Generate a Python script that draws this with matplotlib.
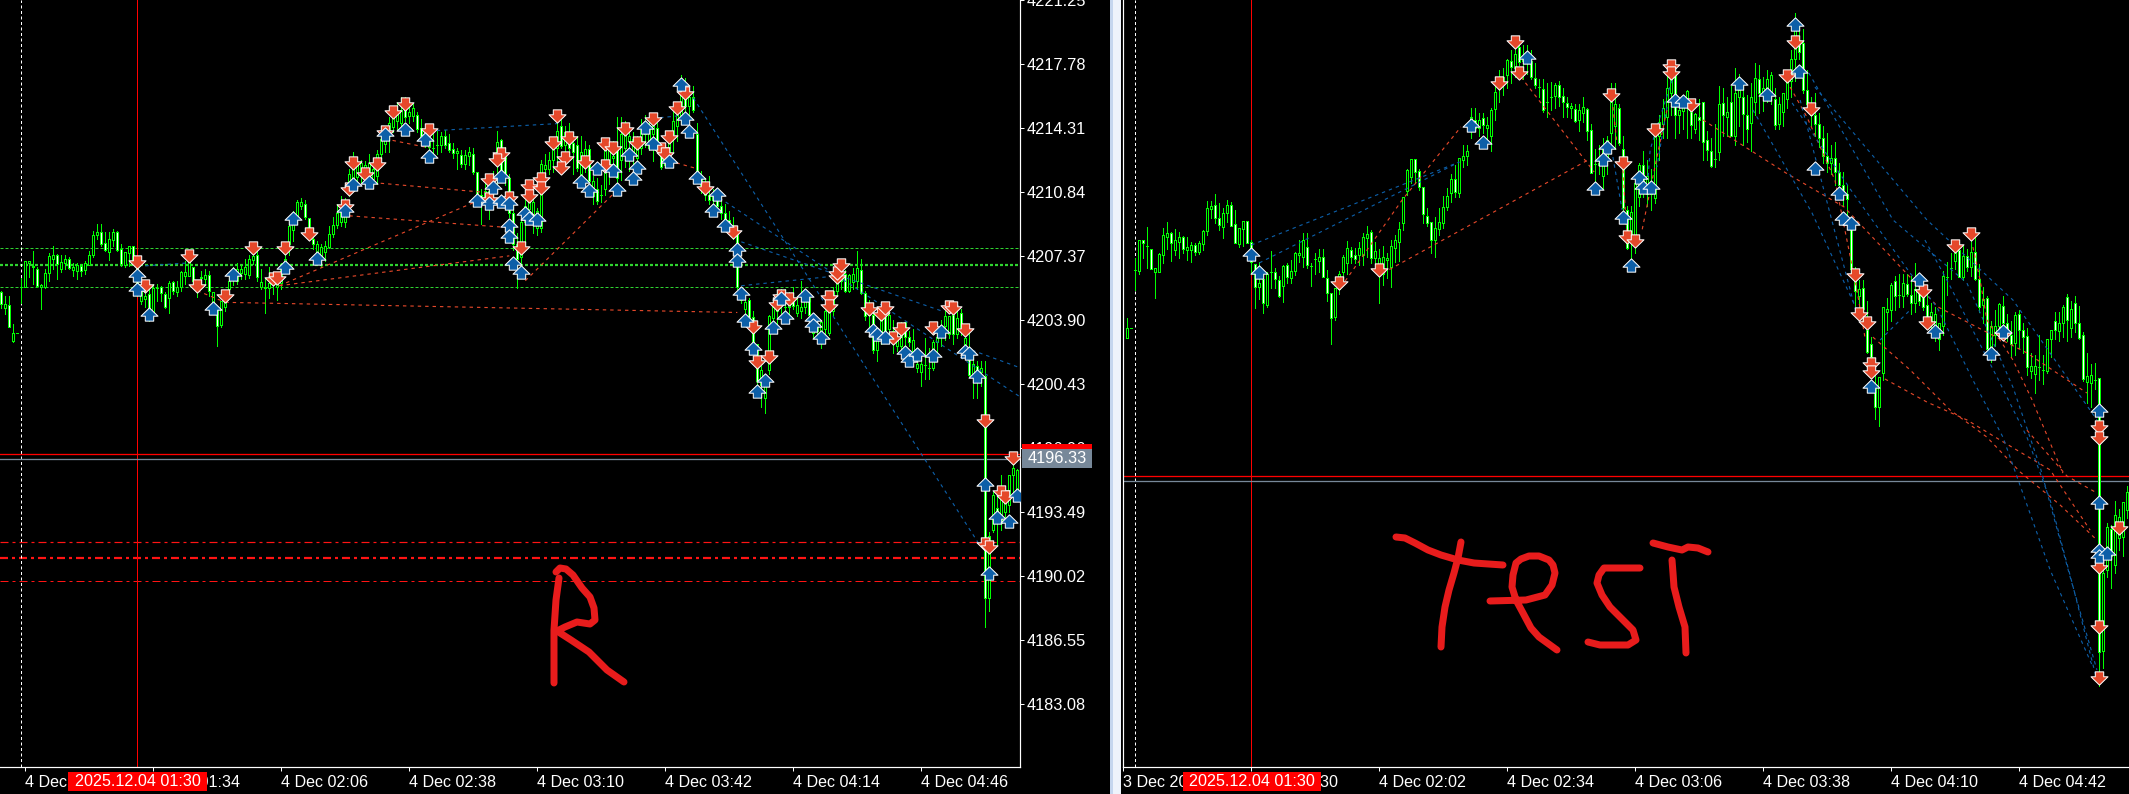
import numpy as np
import matplotlib
matplotlib.use("Agg")
import matplotlib.pyplot as plt
from matplotlib.path import Path
from matplotlib.patches import Rectangle

PRICE_BASE = 4200.0

left_open = [5.4,4.55,4.73,2.75,3.2,5.7,5.7,7.0,6.85,6.65,
 5.7,5.7,6.45,7.2,7.4,6.65,7.0,7.2,6.6,6.55,
 6.85,6.6,6.9,7.45,8.5,8.65,8.05,7.6,8.25,8.65,
 7.75,6.9,7.55,7.9,6.9,4.95,5.05,5.3,4.3,5.65,
 5.67,5.3,5.1,5.95,5.4,5.7,6.3,6.3,6.8,5.6,
 6.2,6.15,6.35,4.8,4.5,3.65,4.6,5.6,6.1,6.0,
 6.45,6.4,6.35,7.15,7.45,5.7,5.7,5.65,5.9,5.7,
 5.9,6.9,8.0,8.8,9.5,10.1,10.2,9.45,8.3,7.6,
 7.2,7.6,7.85,8.55,9.05,9.2,9.2,10.9,11.45,11.65,
 11.8,11.7,12.0,11.55,11.7,12.9,13.45,13.9,14.35,14.7,
 14.6,15.4,14.95,14.95,15.0,14.3,13.9,13.3,13.25,13.4,
 13.4,13.9,13.5,13.15,12.95,12.85,12.35,12.8,12.9,11.9,
 10.7,10.6,10.4,10.9,12.6,13.65,12.8,11.6,9.7,8.0,
 7.3,9.2,9.9,9.2,8.9,8.9,12.1,12.1,12.6,13.2,
 14.4,13.4,13.9,13.5,13.4,11.8,12.2,13.15,10.65,11.0,
 10.7,11.0,12.3,12.7,13.2,12.6,13.2,13.6,13.0,12.7,
 13.2,14.0,13.2,14.0,14.3,13.2,12.3,12.9,14.0,14.4,
 15.0,16.5,15.5,16.0,14.0,11.7,11.2,10.7,10.4,10.5,
 10.1,9.7,9.3,9.0,8.6,5.0,4.5,5.0,4.05,2.6,
 0.4,-0.3,1.2,4.0,4.4,5.3,4.6,4.6,5.1,4.3,
 4.4,4.6,5.1,3.2,3.6,3.0,3.4,3.2,4.4,5.5,
 6.0,6.4,5.45,5.95,6.0,6.6,5.36,4.2,4.2,2.3,
 3.0,4.2,3.4,3.2,2.5,2.5,3.78,3.0,2.2,1.3,
 1.1,1.47,1.3,1.3,2.7,3.0,3.6,3.15,4.2,3.15,
 4.3,2.6,2.4,1.0,1.4,1.1,0.89,-11.17,-7.47,-6.3,
 -7.1,-6.5,-6.15,-4.5,-5.25]
left_high = [5.49,5.2,5.2,3.68,3.2,6.2,7.1,7.1,7.65,6.75,
 5.85,6.65,7.55,7.9,7.5,7.4,7.4,7.3,7.0,7.0,
 6.93,7.1,7.65,8.75,9.1,9.1,8.7,8.7,8.85,8.75,
 8.0,7.6,7.9,7.9,7.0,5.75,5.5,5.7,5.85,5.85,
 5.75,5.4,6.0,6.03,6.03,6.55,7.1,7.55,6.8,6.03,
 6.55,6.65,6.57,5.4,4.5,4.95,5.2,6.5,6.75,7.0,
 6.9,7.2,7.4,7.65,7.65,6.65,6.2,6.75,6.3,6.5,
 7.0,7.6,9.2,9.8,10.4,10.5,10.4,9.45,8.5,8.2,
 8.0,8.2,9.0,9.5,10.2,10.6,10.5,12.1,13.0,12.6,
 12.6,12.5,12.9,12.2,13.1,14.2,14.4,14.9,15.3,15.7,
 16.0,16.0,15.7,15.6,15.2,14.8,14.3,14.1,14.1,14.15,
 14.1,14.2,14.0,13.5,13.2,13.1,13.1,13.3,13.2,11.95,
 11.0,11.6,11.0,12.0,14.15,13.7,13.3,11.8,10.2,8.6,
 9.4,10.4,10.8,10.5,10.0,12.6,12.9,13.0,13.5,14.7,
 14.9,14.4,14.6,14.0,13.9,13.9,13.6,13.4,11.7,11.6,
 11.2,13.3,13.5,13.6,14.9,14.9,14.7,14.6,14.1,13.9,
 14.8,15.0,14.8,14.9,14.6,13.5,13.4,14.0,15.2,15.4,
 17.2,17.0,16.6,16.6,14.6,12.0,11.6,11.7,11.0,10.9,
 10.6,10.2,9.8,9.5,9.0,5.6,5.0,5.1,4.4,2.6,
 1.4,1.0,4.15,5.0,5.5,5.6,5.6,5.4,5.7,5.1,
 6.0,5.2,5.4,4.2,4.0,3.9,4.8,5.0,5.7,6.2,
 6.5,6.6,6.4,6.7,7.65,7.2,5.5,5.0,4.4,3.1,
 4.3,4.6,4.4,3.9,3.4,3.8,3.8,3.3,3.4,2.4,
 2.0,2.9,2.4,2.8,3.3,3.9,4.4,4.1,4.6,4.5,
 4.5,3.4,3.2,1.9,1.7,1.7,1.7,-7.6,-5.4,-5.4,
 -4.5,-5.2,-4.5,-3.9,-4.2]
left_low = [4.58,4.22,3.5,2.69,3.2,4.85,5.7,6.25,5.85,5.7,
 4.5,5.65,6.0,6.65,6.1,6.5,6.65,6.65,6.3,6.1,
 6.3,6.4,6.9,7.3,8.3,7.9,7.65,7.15,7.9,7.65,
 6.85,6.75,6.85,7.0,5.2,4.76,4.6,3.86,4.2,4.95,
 4.95,4.58,4.3,5.3,5.2,5.5,5.85,6.3,5.75,5.13,
 5.85,5.85,5.2,4.58,2.47,3.5,4.4,5.5,5.8,5.85,
 6.1,6.1,6.2,6.95,6.03,5.6,4.3,5.1,5.3,5.0,
 5.6,6.6,7.4,8.2,9.1,9.9,9.4,8.6,7.75,6.9,
 6.8,7.1,7.8,8.4,8.9,9.0,8.95,10.6,11.2,11.3,
 11.4,11.2,11.5,11.3,11.3,12.7,13.0,13.0,14.1,14.2,
 14.3,14.7,14.6,14.7,14.1,13.8,13.3,13.0,12.8,12.9,
 13.0,13.2,13.0,12.7,12.1,12.2,12.1,12.3,11.8,10.7,
 9.1,10.2,9.4,10.4,11.0,11.6,11.2,9.5,7.7,5.66,
 7.0,8.0,9.1,8.6,8.5,8.7,11.5,11.8,11.9,12.5,
 13.2,13.0,12.9,11.8,12.0,11.6,11.9,11.4,10.2,10.2,
 10.3,10.7,11.3,12.0,11.4,11.5,12.2,12.0,12.3,12.0,
 12.9,13.3,13.1,12.5,13.0,12.1,12.2,12.6,13.0,13.6,
 14.6,15.0,15.0,15.2,11.5,10.8,10.4,10.2,10.0,9.8,
 9.4,9.0,8.7,8.3,5.6,4.8,4.3,4.0,2.5,0.1,
 -0.8,-1.15,1.0,3.4,3.5,4.3,4.1,4.1,4.5,4.1,
 4.0,4.3,3.7,3.0,3.0,2.4,3.0,3.1,4.2,5.2,
 5.6,5.4,5.4,5.6,5.6,5.3,3.9,3.3,2.1,1.7,
 2.6,2.7,2.9,2.1,2.2,2.1,2.4,2.5,1.6,1.1,
 0.3,0.7,0.7,1.2,2.1,2.5,2.8,2.9,2.6,2.9,
 3.1,2.2,0.8,-0.35,-0.3,0.3,-12.74,-11.9,-7.6,-8.3,
 -7.5,-7.0,-6.5,-5.4,-5.6]
left_close = [4.77,4.77,3.54,3.2,3.2,5.7,7.1,7.1,6.8,5.75,
 5.8,6.45,7.35,7.4,6.93,7.05,7.2,6.7,6.8,6.9,
 6.55,7.0,7.45,8.5,8.65,8.0,7.7,8.3,8.65,7.7,
 6.93,7.6,7.9,7.0,5.5,5.6,5.2,4.4,5.65,5.63,
 5.35,4.62,5.9,5.45,5.7,6.5,6.5,7.05,6.03,6.0,
 6.25,6.35,5.45,5.4,3.6,4.95,5.2,6.0,6.65,6.65,
 6.65,6.75,7.2,7.35,6.25,5.95,5.65,5.9,6.2,6.3,
 6.7,7.2,9.0,9.6,10.3,10.3,9.5,8.65,8.0,8.0,
 7.85,7.9,8.55,9.05,9.73,10.1,9.7,11.8,12.4,12.35,
 12.4,12.3,12.4,12.1,12.9,13.7,14.15,14.6,14.9,15.05,
 15.3,14.9,15.2,15.4,14.25,13.9,13.45,13.7,13.25,13.4,
 13.9,13.4,13.1,12.95,13.05,12.35,12.85,13.0,11.9,10.75,
 10.5,10.9,10.9,11.5,13.55,11.6,11.7,9.7,8.0,7.2,
 9.2,10.1,10.5,10.3,9.8,12.35,12.3,12.6,13.15,14.15,
 13.35,14.1,13.2,13.0,12.15,13.0,13.15,11.45,11.45,10.35,
 10.7,13.1,13.2,12.8,11.6,14.0,14.3,13.9,13.7,13.5,
 14.2,14.6,14.5,14.4,13.2,12.2,13.0,13.6,14.7,15.0,
 16.5,15.5,16.0,15.3,11.7,11.2,10.7,10.4,10.6,10.1,
 9.7,9.3,9.0,8.6,5.7,5.0,4.9,4.05,2.6,0.6,
 1.2,0.9,4.1,4.6,5.3,5.4,4.6,4.9,4.65,4.7,
 4.6,5.0,4.2,3.6,3.3,3.8,4.4,4.4,5.5,6.0,
 6.3,5.45,6.35,6.4,6.7,5.35,4.1,4.8,2.3,2.8,
 4.2,3.3,4.2,3.3,2.9,3.7,3.0,2.7,2.8,1.5,
 1.5,1.47,1.3,2.7,3.0,3.6,4.1,4.1,3.15,4.0,
 3.5,2.95,0.9,1.5,1.0,1.3,-11.17,-7.8,-5.6,-6.9,
 -5.5,-5.5,-4.5,-4.1,-4.25]

right_open = [2.67,3.08,5.66,5.63,7.0,6.72,6.57,5.58,5.58,6.32,
 7.1,7.3,6.55,6.9,7.1,6.55,6.55,6.76,6.47,6.8,
 7.4,8.35,8.52,7.94,7.55,8.16,8.53,7.7,6.8,7.47,
 7.82,6.9,5.9,4.92,5.25,4.1,5.58,5.58,5.2,4.97,
 5.88,5.29,5.63,6.3,6.25,6.66,5.85,6.13,6.07,6.25,
 5.29,4.63,3.6,4.8,5.58,5.98,6.54,6.32,6.32,6.32,
 7.05,7.35,6.2,5.6,5.5,6.1,5.8,6.65,6.9,7.72,
 9.16,9.78,10.56,10.05,9.31,8.05,7.76,7.0,7.45,7.75,
 8.46,9.05,9.66,9.07,10.5,10.7,11.85,12.3,11.95,12.36,
 11.95,11.6,12.77,13.7,14.0,14.27,14.9,14.6,15.5,14.9,
 15.1,14.9,14.16,13.75,13.64,13.1,13.29,13.36,13.84,13.36,
 13.05,12.83,12.76,12.3,12.6,12.76,11.85,10.33,10.3,9.8,
 10.6,11.7,12.0,12.8,11.0,8.3,6.9,7.2,8.9,10.3,
 9.0,9.0,8.85,11.6,12.1,12.4,13.5,14.3,12.5,12.7,
 13.0,12.66,11.9,12.4,13.07,11.4,10.9,10.58,10.85,13.03,
 12.4,13.07,11.6,13.3,13.3,12.5,12.15,13.1,14.1,13.5,
 13.7,13.47,13.2,12.1,12.66,13.2,14.0,15.0,15.6,15.7,
 13.6,13.0,12.5,12.1,11.5,10.7,10.4,10.6,10.0,9.4,
 9.0,7.6,5.2,4.5,4.88,3.0,2.4,0.43,-0.38,1.09,
 3.8,3.9,5.17,4.55,4.51,5.03,4.55,4.2,4.8,4.48,
 4.11,3.3,3.0,2.6,3.16,5.34,5.76,6.07,6.54,5.36,
 6.28,5.8,6.47,5.25,4.1,4.41,2.2,2.8,3.16,4.07,
 3.3,2.8,2.42,3.7,3.0,2.74,1.2,1.08,1.39,1.24,
 1.2,2.6,3.4,2.94,3.3,4.48,3.08,4.19,3.33,2.79,
 0.7,0.65,0.8,0.87,-11.2,-7.6,-5.8,-7.38,-6.2,-6.13,-4.95]
right_high = [3.55,3.08,6.17,7.0,7.0,7.54,6.6,5.76,6.42,7.5,
 7.8,7.35,7.45,7.35,7.15,7.1,6.88,6.84,6.95,7.42,
 8.7,8.7,9.0,8.6,8.38,8.75,8.68,8.3,7.5,7.82,
 7.82,7.0,5.9,6.0,5.58,5.55,6.5,5.73,5.4,5.88,
 5.95,6.1,6.46,6.98,7.3,7.3,5.95,6.4,6.57,6.58,
 5.66,4.63,4.85,5.6,6.3,6.94,6.69,6.62,6.91,7.28,
 7.6,7.42,6.9,6.6,6.7,6.4,7.0,7.2,7.8,8.87,
 10.1,10.56,10.56,10.1,9.31,8.4,7.8,8.0,8.4,8.93,
 9.27,9.9,10.3,10.6,11.2,11.2,12.8,12.8,12.6,12.6,
 12.4,12.8,13.8,14.5,14.6,14.97,15.4,15.6,15.6,15.6,
 15.6,15.4,14.8,14.1,14.1,13.9,13.95,13.9,14.0,13.7,
 13.3,13.03,13.0,13.0,13.3,12.8,12.1,11.0,11.2,11.5,
 11.6,13.9,13.9,13.0,11.6,8.5,8.5,9.6,10.4,10.9,
 10.5,10.1,11.8,12.5,13.2,14.3,14.3,14.5,13.2,13.4,
 13.6,13.2,12.6,13.2,13.07,11.8,11.5,12.1,13.8,13.7,
 13.3,13.8,14.6,14.3,14.0,13.4,13.9,14.8,14.7,14.2,
 14.5,14.4,13.7,13.3,13.5,14.2,15.4,17.0,16.5,16.3,
 14.5,13.3,13.5,12.6,12.0,11.7,11.2,11.3,10.4,10.0,
 9.4,8.0,5.8,5.2,5.2,4.3,2.7,1.0,0.94,4.04,
 4.4,5.1,5.4,5.5,5.5,5.5,5.4,5.97,5.2,5.0,
 4.6,4.2,4.0,3.3,5.6,6.0,6.4,6.6,6.9,6.7,
 6.6,7.0,7.1,5.9,4.9,4.5,3.4,3.9,4.2,4.5,
 3.7,3.4,3.8,3.9,3.3,3.1,2.0,1.9,2.8,1.9,
 2.6,3.0,3.8,3.8,4.1,4.6,4.3,4.5,4.05,2.9,
 2.0,1.5,1.55,0.87,-7.4,-5.54,-5.6,-4.55,-4.9,-4.6,-3.9]
right_low = [2.63,3.08,4.77,5.5,6.17,5.73,5.7,4.43,5.58,5.95,
 6.6,6.05,6.3,6.2,6.4,6.1,6.03,6.32,6.36,6.54,
 7.2,7.95,7.75,7.42,7.09,7.8,7.6,6.84,6.69,6.7,
 6.84,5.5,3.96,4.38,3.74,4.04,4.85,4.85,4.48,4.26,
 5.07,5.07,5.44,6.03,5.8,5.73,4.95,5.48,5.58,5.36,
 4.3,2.4,3.45,4.6,5.2,5.5,5.95,5.95,5.88,5.88,
 6.25,5.95,5.9,4.2,5.0,5.3,4.9,6.0,6.05,7.42,
 8.95,9.5,9.5,9.2,7.72,7.6,6.42,6.25,7.2,7.5,
 8.3,8.68,8.9,8.9,10.2,10.3,11.5,11.8,11.6,11.7,
 11.4,10.9,12.3,13.1,13.4,13.7,13.9,14.2,14.7,14.1,
 14.3,14.1,13.7,13.3,12.66,12.4,12.73,12.8,12.9,12.44,
 12.4,12.36,12.2,11.8,12.2,11.4,9.93,9.35,9.9,9.3,
 9.9,11.0,11.0,11.2,8.3,6.6,5.6,6.4,8.5,8.9,
 8.5,8.3,8.6,10.5,11.5,11.5,12.5,11.5,11.7,11.9,
 11.5,11.5,11.7,11.4,10.5,10.5,10.2,10.2,10.5,11.6,
 11.6,11.6,11.2,12.0,11.2,11.3,10.9,12.5,12.6,12.7,
 13.1,13.0,11.9,11.9,12.0,12.8,13.3,14.0,15.0,13.5,
 12.8,12.0,11.6,11.1,10.4,10.0,9.9,9.4,9.0,8.5,
 7.7,5.5,3.9,3.9,3.2,2.0,1.2,-0.93,-1.22,0.8,
 3.0,3.4,3.9,4.0,4.0,4.5,3.7,3.8,4.1,3.9,
 3.2,2.8,2.5,2.1,2.8,4.56,5.25,5.7,5.36,5.2,
 5.6,5.4,5.2,3.8,3.3,2.0,1.6,2.3,2.6,2.8,
 2.5,1.8,1.9,2.2,2.0,1.0,0.9,0.2,0.8,0.6,
 1.1,1.8,2.6,2.5,2.7,2.5,2.7,2.9,2.6,0.75,
 -0.2,-0.4,0.4,-12.73,-11.95,-7.9,-8.4,-7.75,-6.7,-7.0,-5.3]
right_close = [3.1,3.08,5.66,7.0,6.87,6.72,5.7,5.73,6.35,7.2,
 7.3,6.85,6.98,7.1,6.6,6.66,6.75,6.47,6.87,7.38,
 8.38,8.48,7.95,7.66,8.16,8.53,7.6,6.87,7.5,7.82,
 6.87,6.0,4.92,5.07,4.2,5.5,5.58,5.28,4.52,5.83,
 5.36,5.6,6.4,6.4,6.98,5.88,5.85,6.13,6.22,5.36,
 4.63,3.52,4.85,5.5,6.25,6.62,6.22,6.13,6.62,7.1,
 7.23,6.17,6.5,6.2,6.25,6.2,6.7,6.98,7.47,8.87,
 10.08,10.56,10.0,9.34,8.12,7.72,7.0,7.5,7.76,8.46,
 8.94,9.66,9.12,10.6,10.7,10.9,12.4,11.95,12.3,12.07,
 12.07,12.75,13.54,14.0,14.2,14.94,14.62,15.2,14.87,15.1,
 15.3,14.2,13.84,13.76,12.73,13.1,13.29,13.84,13.32,13.07,
 12.85,12.92,12.22,12.73,12.88,11.82,9.96,10.33,10.4,11.0,
 11.4,13.08,13.0,11.28,8.4,6.65,8.2,9.5,10.3,9.5,
 9.8,9.1,11.7,12.2,12.8,13.7,14.2,12.5,12.73,13.2,
 13.57,12.07,12.54,12.3,11.33,10.95,10.25,10.58,13.0,12.5,
 12.66,11.6,13.47,13.6,12.55,11.9,13.3,14.15,13.47,13.7,
 14.1,14.27,12.07,12.98,13.5,14.2,15.0,16.5,15.3,13.6,
 13.0,12.5,12.1,11.5,10.7,10.4,10.6,10.0,9.4,9.0,
 8.8,5.7,4.75,4.8,3.92,2.05,1.83,-0.38,0.94,4.04,
 3.92,5.0,4.51,4.55,5.07,4.6,4.2,4.8,4.3,4.01,
 3.52,3.8,3.7,3.3,5.4,5.34,5.76,6.4,5.36,6.28,
 5.8,6.47,5.25,4.04,4.36,2.15,3.16,3.2,4.14,3.3,
 3.0,2.4,3.67,3.0,2.68,1.35,1.4,1.4,1.39,1.24,
 2.6,3.0,3.0,3.3,4.04,3.45,3.92,3.3,2.64,0.83,
 0.95,1.0,0.8,-11.21,-7.75,-5.7,-7.0,-5.17,-5.25,-4.6,-4.15]

left_down_x = [34,36,47,49,56,63,68,69,71,77,98,101,96,107,88,94,91,87,86,125,124,122,122,127,130,139,138,142,141,140,146,132,135,135,132,151,153,151,156,159,163,165,166,167,169,171,176,183,188,189,192,194,195,197,207,207,209,209,210,217,220,221,223,225,233,237,238,241,246,253,250,251,246,247]
left_down_y = [7.02,5.72,7.38,5.76,5.2,7.83,6.12,6.17,7.78,8.55,15.2,15.63,14.12,14.2,12.44,12.38,11.8,11.0,10.1,12.9,12.56,11.5,10.45,10.54,7.83,14.96,13.52,13.79,12.71,12.13,12.49,11.17,11.53,11.05,10.63,13.47,13.25,12.26,14.24,13.52,14.82,13.16,12.92,13.85,15.42,16.23,11.07,8.68,3.5,1.61,1.88,4.77,5.2,5.04,5.13,4.68,6.21,6.43,6.88,4.5,4.23,4.53,2.93,3.42,3.47,4.59,4.55,3.36,-1.55,-3.59,-5.4,-5.67,-8.23,-8.41]
left_up_x = [34,34,37,53,58,71,73,79,96,101,106,107,88,92,86,125,123,122,119,125,127,127,127,128,130,131,132,134,145,147,149,153,157,159,158,154,161,163,167,171,170,172,174,179,178,181,184,184,185,186,188,189,191,193,195,201,196,203,203,205,218,219,221,226,227,229,233,235,241,242,244,246,249,252,254,247]
left_up_y = [6.35,5.58,4.22,4.58,6.39,6.75,9.42,7.29,14.0,14.24,13.7,12.8,11.26,11.39,9.86,11.72,11.12,10.27,10.4,10.33,10.27,9.06,8.43,6.97,6.48,9.73,9.42,9.37,11.45,10.96,12.13,12.04,12.89,12.2,11.59,11.0,14.37,13.48,12.53,14.84,16.68,14.15,11.66,10.74,9.87,9.06,7.75,7.15,5.36,3.9,2.38,0.08,0.67,3.54,5.08,5.27,4.08,3.96,3.63,3.0,3.38,3.14,2.96,2.15,1.74,2.06,2.03,3.33,2.24,2.12,0.89,-4.98,-6.79,-6.97,-5.61,-9.82]

right_down_x = [53,63,97,98,93,121,124,125,127,132,136,136,141,165,167,171,182,183,185,186,186,199,200,207,211,219,243,243,243,243,243,248]
right_down_y = [5.07,5.66,15.72,14.35,13.94,13.39,10.4,7.13,6.96,11.85,14.68,14.38,12.95,14.25,15.75,12.77,5.44,3.7,3.33,1.49,1.17,4.73,3.33,6.72,7.25,2.82,-1.27,-1.78,-7.46,-10.11,-12.39,-5.76]
right_up_x = [31,33,100,89,86,120,119,117,124,126,128,129,131,137,139,153,160,167,168,172,178,179,181,198,216,202,186,219,243,243,243,243,245]
right_up_y = [6.36,5.58,15.06,11.33,12.07,11.11,10.55,9.3,7.99,5.88,9.78,9.34,9.34,13.17,13.14,13.91,13.44,16.53,14.45,10.16,9.06,7.95,7.73,5.25,1.98,2.94,0.53,2.94,-0.53,-4.58,-6.72,-7.0,-6.87]

left_orange_lines = [
 ([56,184],[4.86,4.31]), ([87,126.5],[9.55,8.92]), ([93,121],[11.35,10.82]),
 ([69.5,121],[5.76,10.54]), ([69.5,127],[5.76,7.38]), ([131,153],[6.03,10.74]),
 ([96,107],[13.72,13.23]), ([167,174],[12.53,12.1]), ([49,56],[5.49,4.86])]
left_blue_lines = [
 ([107,139],[14.15,14.55]), ([36,47],[6.84,7.0]), ([185,209],[5.76,6.3]),
 ([173,244.3],[15.94,-8.2]), ([178,254.6],[10.74,-0.25]), ([185,235],[8.14,4.4]),
 ([241,254.6],[2.4,1.32]), ([161,169],[14.8,14.96])]
right_blue_lines = [
 ([31,83],[6.76,10.43]), ([33,83],[5.97,10.43]),
 ([156.4,171.2,182.4,183.2],[12.73,8.17,3.89,3.62]),
 ([166.2,180.9,195.7,202.4,211.4,218.9,230.7,241.4],[13.04,9.19,5.52,4.02,0.79,-1.73,-7.6,-11.89]),
 ([199.4,204.9,217.4,224.9,230.7,236.2,242.4],[6.98,5.21,0.93,-1.73,-4.51,-8.18,-12.47]),
 ([171.9,199.9,221.4,242.4],[13.74,7.87,4.33,-0.97]),
 ([170.4,191.4,209.9,221.4,228.2,235.7,242.4],[14.36,7.87,5.08,0.48,-3.05,-7.91,-12.02]),
 ([168.2,182.7],[13.17,3.45]), ([188.2,195.7],[2.56,3.89]), ([121.4,123.7],[10.65,8.31]),
 ([136.2,132.4,130.7,130.2],[14.05,11.98,10.96,9.77]), ([134.9,132.4],[12.86,10.21])]
right_orange_lines = [
 ([53.4,68.7,83.4],[4.9,8.75,11.98]), ([63.9,115.2],[5.52,10.52]), ([98.4,116.7],[14.19,9.99]),
 ([121.4,122.4],[12.86,11.27]), ([123.9,124.9],[10.08,7.12]), ([134.9,132.4,128.7],[12.73,10.65,7.43]),
 ([143.9,164.7,179.2,202.7,224.9,239.9],[12.29,9.94,8.44,4.02,1.99,0.22]),
 ([186.4,195.7,205.7,214.9,223.2,233.2,242.4],[2.69,1.24,-0.53,-1.73,-3.27,-4.73,-6.28]),
 ([189.4,199.9,209.9,218.2,230.7,240.7],[0.84,-0.18,-0.97,-1.86,-3.18,-5.84]),
 ([211.4,213.2,214.9,221.4,226.2,233.9],[6.67,5.21,3.45,1.68,-0.09,-3.32]),
 ([224.9,234.9,242.4],[-1.42,-3.45,-4.2]),
 ([165.7,169.9,176.9,182.4,184.4],[13.74,12.42,9.63,4.77,2.69])]

green_levels = [7.83, 6.9, 5.71]
red_dash_levels = [-8.15, -9.02, -10.26]
left_red_level, left_grey_level = -3.34, -3.62
right_red_level, right_grey_level = -3.45, -3.67

price_ticks = [4183.08,4186.55,4190.02,4193.49,4196.96,4200.43,4203.90,4207.37,4210.84,4214.31,4217.78,4221.25]
left_tick_bars = [6,38,70,102,134,166,198,230]
left_tick_labels = ["4 Dec 01:02","4 Dec 01:34","4 Dec 02:06","4 Dec 02:38","4 Dec 03:10","4 Dec 03:42","4 Dec 04:14","4 Dec 04:46"]
right_tick_bars = [-1,31,63,95,127,159,191,223]
right_tick_labels = ["3 Dec 20:58","4 Dec 01:30","4 Dec 02:02","4 Dec 02:34","4 Dec 03:06","4 Dec 03:38","4 Dec 04:10","4 Dec 04:42"]
left_cross_bar, right_cross_bar = 34, 31
left_sep_bar, right_sep_bar = 5, 2
crosshair_label = "2025.12.04 01:30"
last_price_label = "4196.33"

FONT = "Liberation Sans"
W, H = 2129, 794
LIME = "#00ff00"
ORANGE = "#e5482a"
BLUE = "#0d5fa8"
PX = 72 / 100

up_verts = [(0,6.65),(8.5,-1.7),(4.2,-1.7),(4.2,-6.65),(-4.2,-6.65),(-4.2,-1.7),(-8.5,-1.7),(0,6.65)]
dn_verts = [(x,-y) for x,y in up_verts]
up_path = Path(up_verts, closed=True)
dn_path = Path(dn_verts, closed=True)

fig = plt.figure(figsize=(W/100, H/100), dpi=100, facecolor="black")
ax_l = fig.add_axes([0, 27/H, 1020/W, 767/H], facecolor="black")
ax_r = fig.add_axes([1123/W, 27/H, 1006/W, 767/H], facecolor="black")

def draw_panel(ax, o, h, l, c, dn_x, dn_y, up_x, up_y, orange, blue):
    o, h, l, c = [PRICE_BASE + np.array(a, float) for a in (o, h, l, c)]
    x = np.arange(len(o))
    ax.vlines(x, l, h, colors=LIME, lw=PX, antialiased=False, zorder=3)
    face = ["white" if cc < oo else "black" for oo, cc in zip(o, c)]
    ax.bar(x, np.abs(c-o), bottom=np.minimum(o, c), width=0.5, color=face, edgecolor=LIME,
           linewidth=PX, antialiased=False, zorder=4)
    for xs, ys in orange:
        ax.plot(xs, PRICE_BASE + np.array(ys), color=ORANGE, lw=1.0*PX+0.1, ls=(0, (3, 3.5)), zorder=5)
    for xs, ys in blue:
        ax.plot(xs, PRICE_BASE + np.array(ys), color=BLUE, lw=1.0*PX+0.1, ls=(0, (3, 3.5)), zorder=5)
    ax.plot(dn_x, PRICE_BASE + np.array(dn_y), ls="none", marker=dn_path, ms=17*PX, mfc=ORANGE,
            mec="white", mew=PX, antialiased=False, zorder=6)
    ax.plot(up_x, PRICE_BASE + np.array(up_y), ls="none", marker=up_path, ms=17*PX, mfc=BLUE,
            mec="white", mew=PX, antialiased=False, zorder=7)

draw_panel(ax_l, left_open, left_high, left_low, left_close, left_down_x, left_down_y,
           left_up_x, left_up_y, left_orange_lines, left_blue_lines)
draw_panel(ax_r, right_open, right_high, right_low, right_close, right_down_x, right_down_y,
           right_up_x, right_up_y, right_orange_lines, right_blue_lines)

# levels
for lv, lw in zip(green_levels, [1, 2.2, 1]):
    ax_l.axhline(PRICE_BASE+lv, color="#2fd32f", lw=lw*PX, ls=(0, (3/lw, 2/lw)), zorder=2)
for lv, lw in zip(red_dash_levels, [1.2, 2.2, 1]):
    ax_l.axhline(PRICE_BASE+lv, color="#ff1414", lw=lw*PX, ls=(0, (8/lw, 4/lw, 3/lw, 4/lw)), zorder=2)
for ax, red, grey in ((ax_l, left_red_level, left_grey_level), (ax_r, right_red_level, right_grey_level)):
    ax.axhline(PRICE_BASE+red, color="#ff0000", lw=1.3*PX, zorder=2.5)
    ax.axhline(PRICE_BASE+grey, color="#778899", lw=1.3*PX, zorder=2.5)
ax_l.axvline(left_cross_bar, color="#ff0000", lw=PX, zorder=2)
ax_r.axvline(right_cross_bar, color="#ff0000", lw=PX, zorder=2)
ax_l.axvline(left_sep_bar, color="white", lw=PX, ls=(0, (3, 2.5)), zorder=2)
ax_r.axvline(right_sep_bar, color="white", lw=PX, ls=(0, (3, 2.5)), zorder=2)

# scales
ax_l.set_xlim(-0.33, 254.67)
ax_l.set_ylim(PRICE_BASE-20.33, PRICE_BASE+21.19)
ax_r.set_xlim(-1.08, 250.42)
ax_r.set_ylim(PRICE_BASE-16.31, PRICE_BASE+17.59)

for ax, tb, tl in ((ax_l, left_tick_bars, left_tick_labels), (ax_r, right_tick_bars, right_tick_labels)):
    for s in ax.spines.values():
        s.set_visible(False)
    ax.spines["bottom"].set_visible(True)
    ax.spines["bottom"].set_color("white")
    ax.spines["bottom"].set_linewidth(PX*1.2)
    ax.set_xticks(tb)
    ax.set_xticklabels(tl, ha="left", color="white", fontsize=11.6, family=FONT)
    ax.tick_params(axis="x", colors="white", length=3.2, width=PX, pad=2.5)

ax_l.spines["right"].set_visible(True)
ax_l.spines["right"].set_color("white")
ax_l.spines["right"].set_linewidth(PX*1.2)
ax_l.yaxis.tick_right()
ax_l.set_yticks(price_ticks)
ax_l.set_yticklabels([f"{p:.2f}" for p in price_ticks], color="white", fontsize=11.8, family=FONT)
ax_l.tick_params(axis="y", colors="white", length=3.2, width=PX, pad=1.5)
ax_r.spines["left"].set_visible(True)
ax_r.spines["left"].set_color("white")
ax_r.spines["left"].set_linewidth(PX*1.2)
ax_r.set_yticks([])

# overlay in image pixels: window frame, price tag, crosshair tags, hand-drawn marks
ov = fig.add_axes([0, 0, 1, 1], zorder=10)
ov.set_xlim(0, W); ov.set_ylim(H, 0); ov.axis("off"); ov.patch.set_alpha(0)
ov.add_patch(Rectangle((1110, 0), 3, H, color="#c5d6ee", lw=0))
ov.add_patch(Rectangle((1113, 0), 8, H, color="#eef3fb", lw=0))
ov.add_patch(Rectangle((1022, 444), 70, 5.5, color="#ff0000", lw=0))
ov.add_patch(Rectangle((1022, 449), 70, 19, color="#778899", lw=0))
ov.text(1057, 458.5, last_price_label, color="white", ha="center", va="center", fontsize=11.8, family=FONT)
for x0, x1 in ((68, 207), (1183, 1321)):
    ov.add_patch(Rectangle((x0, 772), x1-x0, 19, color="#ff0000", lw=0))
    ov.text((x0+x1)/2, 781.5, crosshair_label, color="white", ha="center", va="center", fontsize=11.6, family=FONT)

hand_strokes = [
 [(554,683),(554,653),(554,630),(556,600),(559,578)],
 [(556,572),(560,568),(566,569),(573,575),(582,588),(590,597),(594,608),(595,620),(590,624),(577,622),(565,627),(557,631),(571,640),(589,652),(600,663),(607,670),(624,682)],
 [(1396,537),(1405,538),(1415,543),(1428,550),(1441,555),(1458,560),(1474,563),(1503,565)],
 [(1461,542),(1458,558),(1454,573),(1449,590),(1445,607),(1442,627),(1441,647)],
 [(1490,601),(1526,600),(1545,595),(1552,585),(1555,573),(1553,565),(1549,560),(1539,556),(1529,556),(1521,559),(1516,563),(1513,575),(1512,587),(1516,600),(1523,613),(1531,628),(1539,637),(1557,650)],
 [(1640,568),(1622,568),(1604,568),(1599,575),(1597,583),(1602,595),(1610,607),(1622,619),(1633,630),(1636,640),(1628,645),(1617,645),(1600,645),(1588,642)],
 [(1672,560),(1673,573),(1674,587),(1679,607),(1685,627),(1686,653)],
 [(1653,543),(1668,547),(1682,550),(1688,547),(1698,548),(1708,552)],
]
for st in hand_strokes:
    xs, ys = zip(*st)
    ov.plot(xs, ys, color="#e81c1c", lw=7*PX, solid_capstyle="round", solid_joinstyle="round")

fig.savefig("out.png", dpi=100, facecolor="black")
